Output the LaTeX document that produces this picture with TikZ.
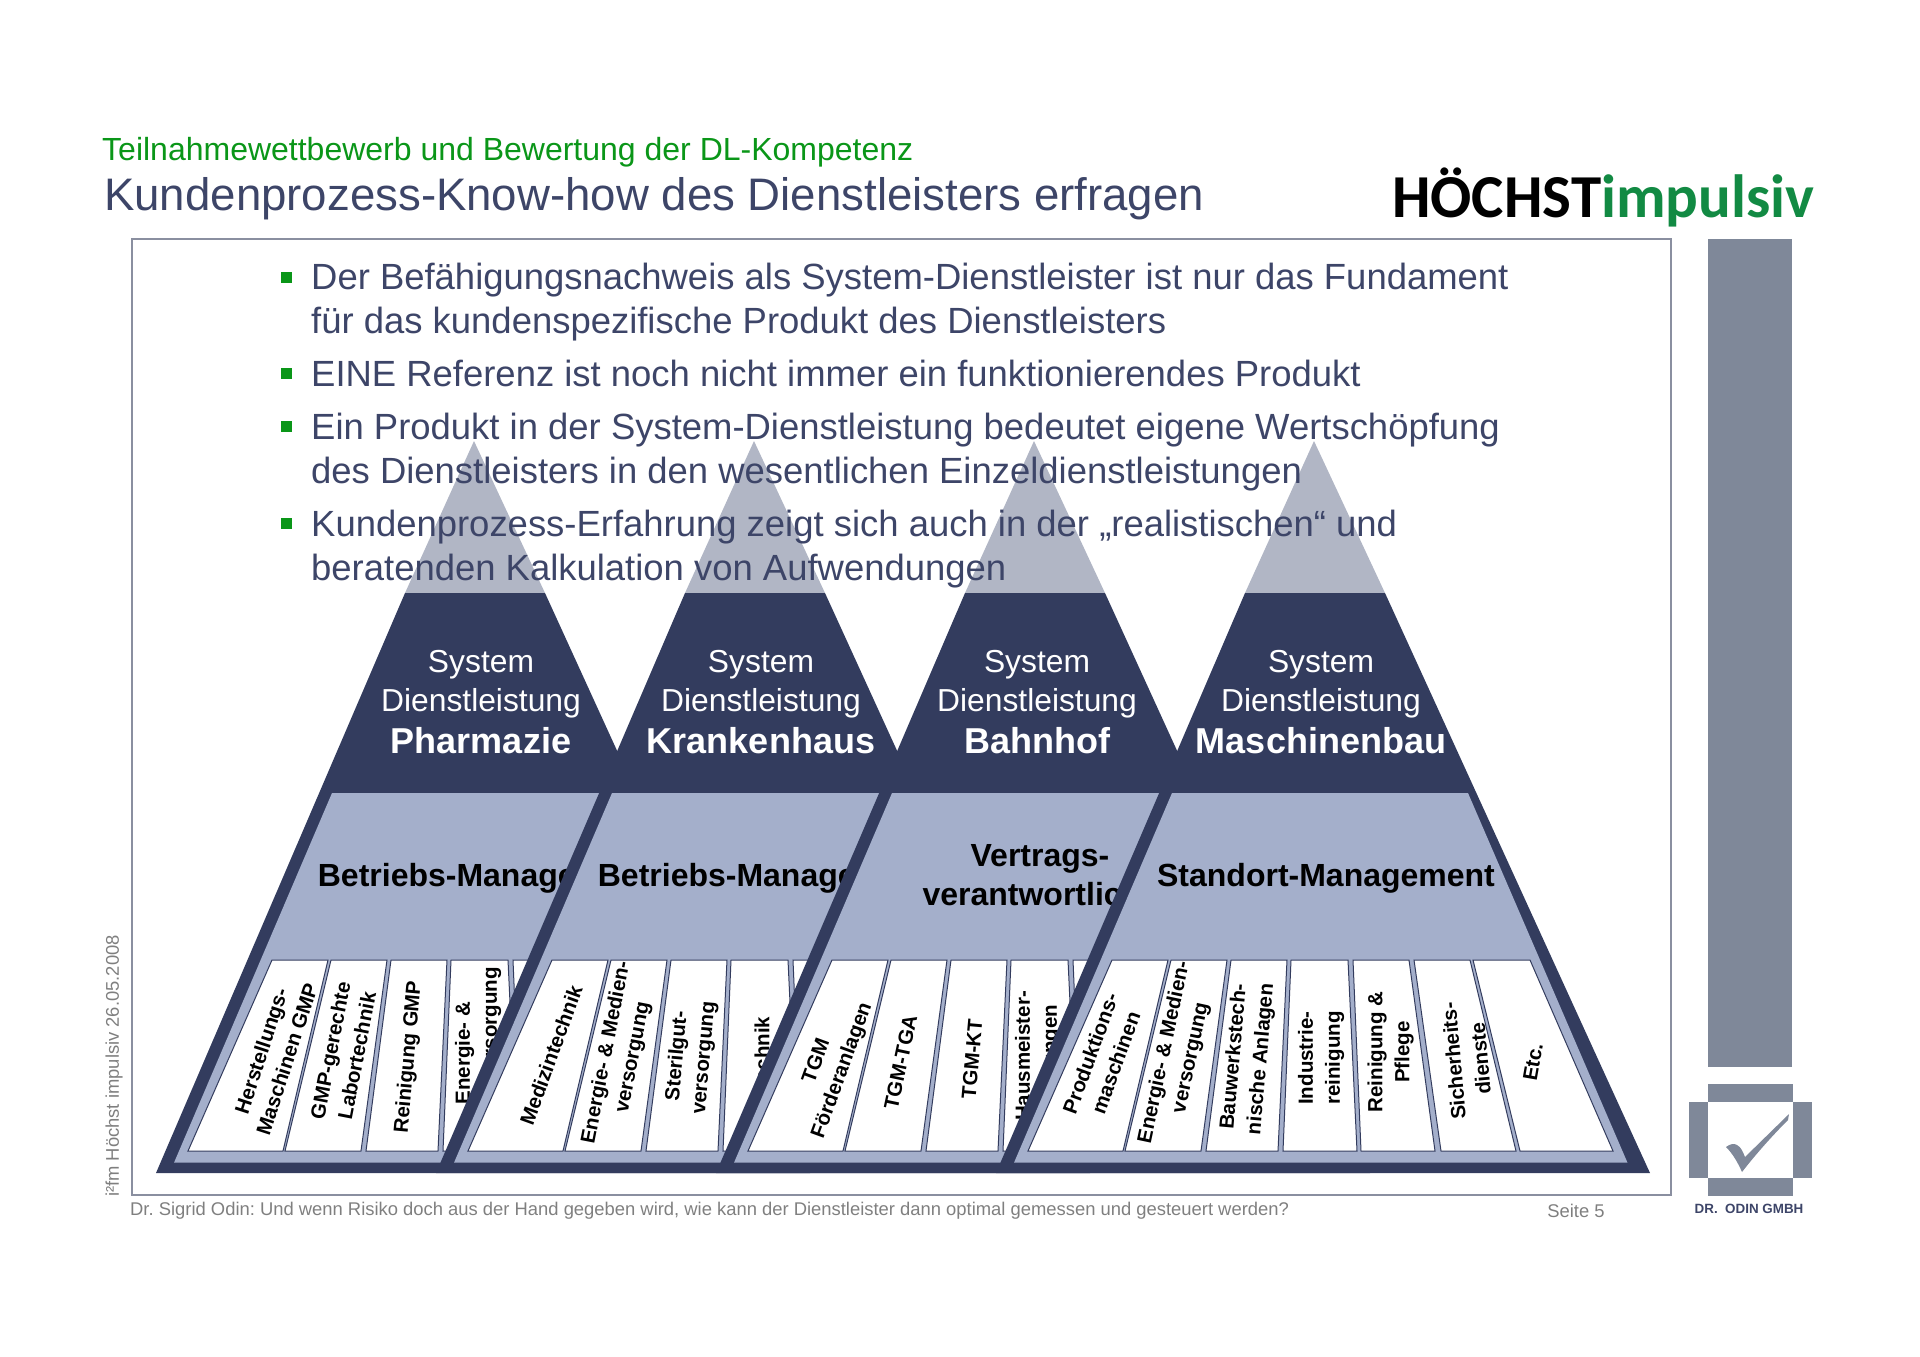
\documentclass[tikz,border=0pt]{standalone}
\usepackage{fontspec}
\setmainfont{Liberation Sans}
\newfontfamily\logofont{Carlito}
\frenchspacing
\usepackage{xcolor}
\definecolor{darkblue}{HTML}{333C5E}
\definecolor{bandblue}{HTML}{A4AFCB}
\definecolor{apexgrey}{HTML}{B1B6C5}
\definecolor{textblue}{HTML}{3D4568}
\definecolor{bargrey}{HTML}{7F8899}
\definecolor{framegrey}{HTML}{8A8FA0}
\definecolor{headgreen}{HTML}{0A9618}
\definecolor{logogreen}{HTML}{128A43}
\definecolor{footgrey}{HTML}{7F7F7F}
\newcommand{\fs}[1]{\fontsize{#1}{#1}\selectfont}
\tikzset{
  stripbox/.style={draw=darkblue, fill=white, line width=1pt},
  sysline/.style={text=white, font=\fs{31.8}, inner sep=0pt},
  sysname/.style={text=white, font=\fs{36}\bfseries, inner sep=0pt},
  bandlabel/.style={text=black, font=\fontsize{32}{39}\selectfont\bfseries, align=center, inner sep=0pt},
  striplabel/.style={text=black, font=\fontsize{20.5}{27}\selectfont\bfseries, align=center, inner sep=0pt},
  bullettext/.style={text=textblue, font=\fs{36.45}, anchor=base west, inner sep=0pt},
  bulletbox/.style={fill=headgreen, minimum size=11pt, inner sep=0pt},
  footnote/.style={text=footgrey, font=\fs{18.4}, inner sep=0pt},
}
% one mountain, drawn at the x position of the first one
\newcommand{\pyramid}[5]{%
  \begin{scope}[xshift=#2pt]
    \fill[apexgrey] (474,441) -- (545,593) -- (405,593) -- cycle;
    \fill[darkblue] (405,593) -- (545,593) -- (810,1173) -- (156,1173) -- cycle;
    \fill[bandblue] (332,793) -- (628,793) -- (787.5,1162.7) -- (174,1162.7) -- cycle;
    \foreach \tl/\tr/\br/\bl in {272/328/283/188, 331/387/361/285, 391/447/438/366, 451/508/517/443, 513/569/595/521, 574/630/676/601, 633/690/773/680}
      \draw[stripbox] (\tl,960) -- (\tr,960) -- (\br,1151) -- (\bl,1151) -- cycle;
    \node[sysline] (#1-a) at (#3,665) {System};
    \node[sysline] (#1-b) at (#3,703) {Dienstleistung};
    \node[sysname] (#1-c) at (#3,741) {#4};
    #5
  \end{scope}}

\begin{document}
\begin{tikzpicture}[x=1pt, y=-1pt]
  \useasboundingbox (0,0) rectangle (1920,1357);

  % Pharmazie
  \pyramid{pharma}{0}{481}{Pharmazie}{
    \node[bandlabel] (pharma-band) at (485,878) {Betriebs-Management};
    \foreach \px/\py/\rot/\txt [count=\i] in {274/1055/72/{Herstellungs-\\Maschinen GMP}, 343.5/1053/79/{GMP-gerechte\\Labortechnik}, 409/1057/85/{Reinigung GMP}, 478/1024/90/{Energie- \&\hspace*{58pt}\\Versorgung}}
      \node[striplabel, rotate=\rot] (pharma-\i) at (\px,\py) {\txt};
  }
  % Krankenhaus
  \pyramid{klinik}{280}{481}{Krankenhaus}{
    \node[bandlabel] (klinik-band) at (485,878) {Betriebs-Management};
    \foreach \px/\py/\rot/\txt [count=\i] in {271/1055/70/{Medizintechnik}, 340/1055/79/{Energie- \& Medien-\\versorgung}, 411/1057/85/{Sterilgut-\\versorgung}, 482/1081/90/{Labortechnik}}
      \node[striplabel, rotate=\rot] (klinik-\i) at (\px,\py) {\txt};
  }
  % Bahnhof
  \pyramid{bahn}{560}{477}{Bahnhof}{
    \node[bandlabel] (bahn-band) at (487,875) {Vertrags-\hspace*{14pt}\\verantwortlicher};
    \foreach \px/\py/\rot/\txt [count=\i] in {270/1066/70/{TGM\\Förderanlagen}, 340.6/1062/78/{TGM-TGA}, 412/1059/85/{TGM-KT}, 478/1056/90/{Hausmeister-\\leistungen}}
      \node[striplabel, rotate=\rot] (bahn-\i) at (\px,\py) {\txt};
  }
  % Maschinenbau
  \pyramid{masch}{840}{481}{Maschinenbau}{
    \node[bandlabel] (masch-band) at (486,878) {Standort-Management};
    \foreach \px/\py/\rot/\txt [count=\i] in {263/1058/70/{Produktions-\\maschinen}, 338/1055/78/{Energie- \& Medien-\\versorgung}, 408/1058/85/{Bauwerkstech-\\nische Anlagen}, 481/1058/90/{Industrie-\\reinigung}, 550.5/1052/90/{Reinigung \&\\Pflege}, 627/1060/95/{Sicherheits-\\dienste}, 693/1062/80/{Etc.}}
      \node[striplabel, rotate=\rot] (masch-\i) at (\px,\py) {\txt};
  }

  % frame and side bar
  \draw[framegrey, line width=1.8pt] (132,239) rectangle (1671,1195);
  \fill[bargrey] (1708,239) rectangle (1792,1067);
  \fill[bargrey] (1708,1084) rectangle (1793,1102);
  \fill[bargrey] (1689,1102) rectangle (1708,1178);
  \fill[bargrey] (1793,1102) rectangle (1812,1178);
  \fill[bargrey] (1708,1178) rectangle (1793,1196);
  \fill[bargrey] (1726,1147) .. controls (1730,1144) and (1734,1143) .. (1737,1145) .. controls (1741,1147) and (1743,1152) .. (1745,1157) -- (1789,1114) -- (1788,1120) .. controls (1772,1136) and (1756,1154) .. (1742,1172) .. controls (1738,1163) and (1733,1154) .. cycle;
  \node[text=textblue, font=\fs{13.4}\bfseries, inner sep=0pt] (odin) at (1749,1209) {DR.\ \ ODIN GMBH};

  % head
  \node[text=headgreen, font=\fs{32}, anchor=base west, inner sep=0pt] (subtitle) at (102,160) {Teilnahmewettbewerb und Bewertung der DL-Kompetenz};
  \node[text=textblue, font=\fs{45.6}, anchor=base west, inner sep=0pt] (title) at (104,210) {Kundenprozess-Know-how des Dienstleisters erfragen};
  \node[font=\logofont\fs{61}\bfseries, anchor=base west, inner sep=0pt] (logo) at (1392,217) {HÖCHST\textcolor{logogreen}{impulsiv}};

  % bullets
  \node[bulletbox] (b1) at (286,277) {};
  \node[bulletbox] (b2) at (286,373) {};
  \node[bulletbox] (b3) at (286,426) {};
  \node[bulletbox] (b4) at (286,523) {};
  \node[bullettext] (l1) at (311,289) {Der Befähigungsnachweis als System-Dienstleister ist nur das Fundament};
  \node[bullettext] (l2) at (311,333) {für das kundenspezifische Produkt des Dienstleisters};
  \node[bullettext] (l3) at (311,386) {EINE Referenz ist noch nicht immer ein funktionierendes Produkt};
  \node[bullettext] (l4) at (311,439) {Ein Produkt in der System-Dienstleistung bedeutet eigene Wertschöpfung};
  \node[bullettext] (l5) at (311,483) {des Dienstleisters in den wesentlichen Einzeldienstleistungen};
  \node[bullettext] (l6) at (311,536) {Kundenprozess-Erfahrung zeigt sich auch in der „realistischen“ und};
  \node[bullettext] (l7) at (311,580) {beratenden Kalkulation von Aufwendungen};

  % foot
  \node[footnote, anchor=west] (foot) at (130,1211) {Dr. Sigrid Odin: Und wenn Risiko doch aus der Hand gegeben wird, wie kann der Dienstleister dann optimal gemessen und gesteuert werden?};
  \node[footnote] (page) at (1576,1211) {Seite 5};
  \node[footnote, rotate=90] (stamp) at (114,1066) {i²fm Höchst impulsiv 26.05.2008};
\end{tikzpicture}
\end{document}
